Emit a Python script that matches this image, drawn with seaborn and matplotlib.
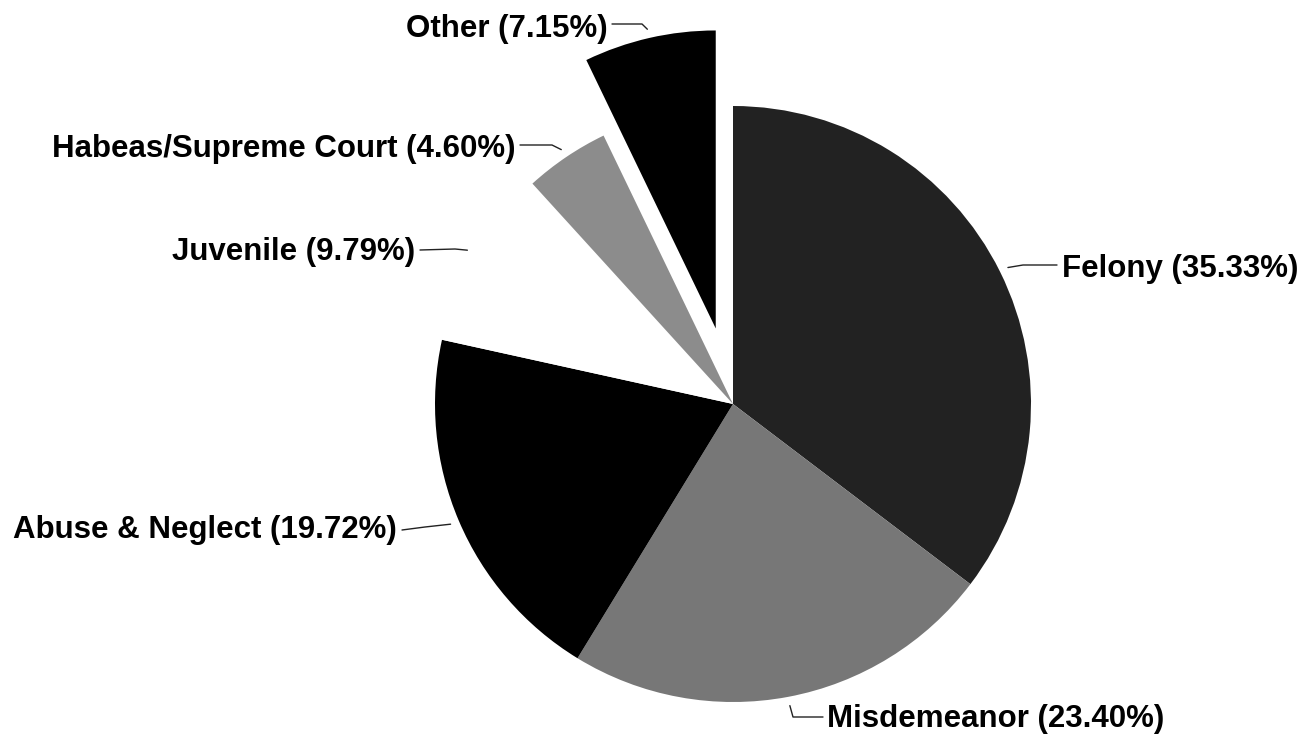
import numpy as np
import matplotlib
matplotlib.use("Agg")
import matplotlib.pyplot as plt
import seaborn as sns

# Case type shares (percent)
categories = ["Felony", "Misdemeanor", "Abuse & Neglect", "Juvenile",
              "Habeas/Supreme Court", "Other"]
shares = [35.33, 23.40, 19.72, 9.79, 4.60, 7.15]
explode = [0, 0, 0, 0, 0, 0.26]
colors = ["#222222", "#777777", "#000000", "#ffffff", "#8c8c8c", "#000000"]

sns.set_theme(style="white")
plt.rcParams["font.family"] = ["Liberation Sans", "DejaVu Sans"]

W, H = 1304, 735
R = 298
fig = plt.figure(figsize=(W / 100, H / 100), dpi=100)
ax = fig.add_axes([0, 0, 1, 1])

# matplotlib's explode offset is in data units, so scale by the radius
wedges, _ = ax.pie(shares, colors=colors, explode=[e * R for e in explode],
                   startangle=90, counterclock=False, center=(733, H - 404),
                   radius=R, wedgeprops=dict(linewidth=0))
ax.set_xlim(0, W)
ax.set_ylim(0, H)
ax.axis("off")

# label layout in pixel coords (y from top): text anchor, align, elbow, line end
layout = {
    "Felony":               ((1062, 277), "left",  (1023, 265), (1057, 265)),
    "Misdemeanor":          ((827, 727),  "left",  (793, 717),  (823, 717)),
    "Abuse & Neglect":      ((397, 538),  "right", (425, 527),  (402, 530)),
    "Juvenile":             ((415, 260),  "right", (455, 249),  (420, 250)),
    "Habeas/Supreme Court": ((515, 157),  "right", (552, 145),  (520, 145)),
    "Other":                ((608, 37),   "right", (642, 24),   (612, 24)),
}

for w, name, pct in zip(wedges, categories, shares):
    (tx, ty), ha, (ex, ey), (lx, ly) = layout[name]
    mid = np.deg2rad((w.theta1 + w.theta2) / 2)
    px = w.center[0] + 1.03 * w.r * np.cos(mid)
    py = w.center[1] + 1.03 * w.r * np.sin(mid)
    ax.plot([px, ex, lx], [py, H - ey, H - ly], color="#222222", lw=1)
    ax.text(tx, H - ty, f"{name} ({pct:.2f}%)", ha=ha, va="baseline",
            fontsize=22.5, fontweight="bold", color="black")

fig.savefig("out.png", dpi=100, facecolor="white")
